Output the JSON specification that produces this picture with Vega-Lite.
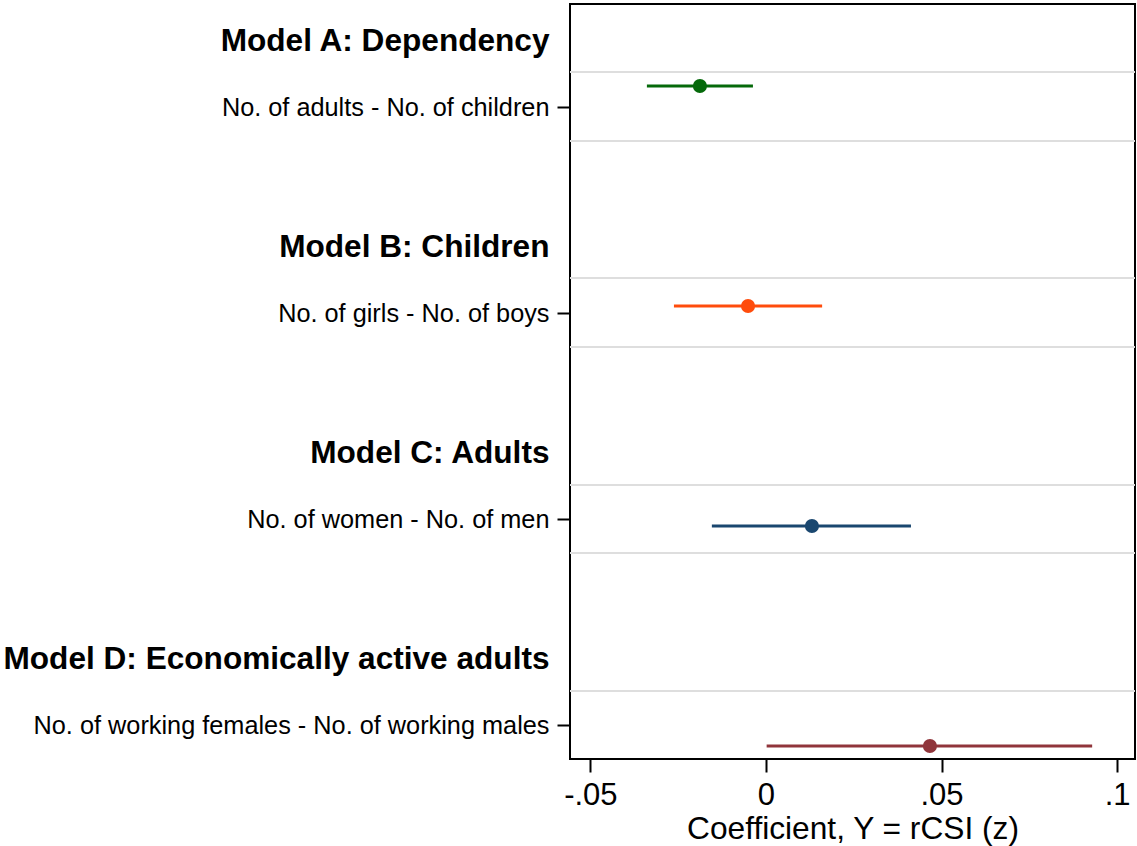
{
  "$schema": "https://vega.github.io/schema/vega-lite/v6.json",
  "autosize": {"type": "none"},
  "padding": {"left": 570, "top": 4, "right": 2, "bottom": 87},
  "width": 565,
  "height": 755,
  "config": {
    "font": "Liberation Sans",
    "view": {"stroke": "#000000", "strokeWidth": 2},
    "axis": {"labelColor": "#000000", "titleColor": "#000000", "tickColor": "#000000", "domain": false, "grid": false}
  },
  "datasets": {
    "coefs": [
      {"model": "A", "label": "No. of adults - No. of children", "pos": 0.898, "b": -0.0188, "lo": -0.0339, "hi": -0.0037},
      {"model": "B", "label": "No. of girls - No. of boys", "pos": 1.966, "b": -0.0051, "lo": -0.0262, "hi": 0.016},
      {"model": "C", "label": "No. of women - No. of men", "pos": 3.034, "b": 0.0131, "lo": -0.0154, "hi": 0.0413},
      {"model": "D", "label": "No. of working females - No. of working males", "pos": 4.102, "b": 0.0467, "lo": 0.0002, "hi": 0.0929}
    ],
    "grid": [
      {"pos": 0.83}, {"pos": 1.165}, {"pos": 1.83}, {"pos": 2.165},
      {"pos": 2.835}, {"pos": 3.165}, {"pos": 3.835}
    ]
  },
  "layer": [
    {
      "data": {"name": "grid"},
      "mark": {"type": "rule", "color": "#dedede", "strokeWidth": 2},
      "encoding": {
        "y": {"field": "pos", "type": "quantitative",
          "scale": {"domain": [0.5, 4.165], "reverse": true, "nice": false, "zero": false},
          "axis": {
            "title": null,
            "values": [0.68, 1, 1.68, 2, 2.68, 3, 3.68, 4],
            "labelExpr": "datum.value < 0.9 ? 'Model A: Dependency' : datum.value < 1.5 ? 'No. of adults - No. of children' : datum.value < 1.9 ? 'Model B: Children' : datum.value < 2.5 ? 'No. of girls - No. of boys' : datum.value < 2.9 ? 'Model C: Adults' : datum.value < 3.5 ? 'No. of women - No. of men' : datum.value < 3.9 ? 'Model D: Economically active adults' : 'No. of working females - No. of working males'",
            "labelLimit": 700,
            "labelPadding": 8,
            "tickSize": 13,
            "tickWidth": 2,
            "labelFontSize": {"condition": {"test": "abs(datum.value - round(datum.value)) > 0.01", "value": 31.6}, "value": 25.3},
            "labelFontWeight": {"condition": {"test": "abs(datum.value - round(datum.value)) > 0.01", "value": "bold"}, "value": "normal"},
            "tickOpacity": {"condition": {"test": "abs(datum.value - round(datum.value)) > 0.01", "value": 0}, "value": 1}
          }
        }
      }
    },
    {
      "data": {"name": "coefs"},
      "mark": {"type": "rule", "strokeWidth": 3},
      "encoding": {
        "y": {"field": "pos", "type": "quantitative"},
        "x": {"field": "lo", "type": "quantitative",
          "scale": {"domain": [-0.0558, 0.1051], "nice": false, "zero": false},
          "axis": {
            "title": "Coefficient, Y = rCSI (z)",
            "values": [-0.05, 0, 0.05, 0.1],
            "labelExpr": "(datum.value < 0 ? '-' : '') + replace(format(abs(datum.value), '.2~f'), '0.', '.')",
            "labelFontSize": 31,
            "labelPadding": 8,
            "tickSize": 13,
            "tickWidth": 2,
            "titleFontSize": 31.7,
            "titleFontWeight": "normal",
            "titlePadding": 3
          }
        },
        "x2": {"field": "hi"},
        "color": {"field": "model", "type": "nominal",
          "scale": {"domain": ["A", "B", "C", "D"], "range": ["#05690a", "#ff4c0c", "#1a476f", "#90353b"]},
          "legend": null}
      }
    },
    {
      "mark": {"type": "rule", "color": "#000000", "strokeWidth": 2.3},
      "encoding": {"x": {"datum": 0, "type": "quantitative"}}
    },
    {
      "data": {"name": "coefs"},
      "mark": {"type": "circle", "size": 200, "opacity": 1},
      "encoding": {
        "y": {"field": "pos", "type": "quantitative"},
        "x": {"field": "b", "type": "quantitative"},
        "color": {"field": "model", "type": "nominal", "legend": null}
      }
    }
  ]
}
